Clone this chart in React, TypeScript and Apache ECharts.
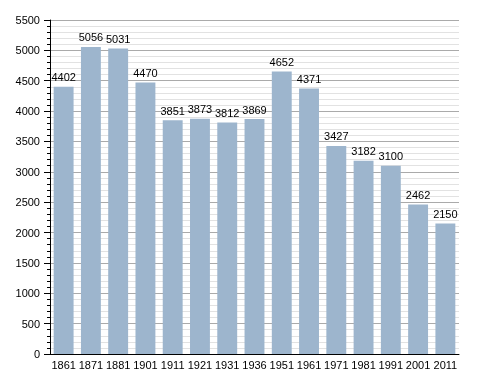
import React, { useEffect, useRef } from "react";
import * as echarts from "echarts";

const years = ["1861", "1871", "1881", "1901", "1911", "1921", "1931", "1936", "1951", "1961", "1971", "1981", "1991", "2001", "2011"];
const population = [4402, 5056, 5031, 4470, 3851, 3873, 3812, 3869, 4652, 4371, 3427, 3182, 3100, 2462, 2150];

const FONT = "Liberation Sans, Arial, sans-serif";

export default function App() {
  const ref = useRef<HTMLDivElement>(null);
  useEffect(() => {
    const chart = echarts.init(ref.current!, null, { renderer: "svg" });
    chart.setOption({
      animation: false,
      grid: { left: 50, right: 29, top: 20, bottom: 19 },
      xAxis: {
        type: "category",
        data: years,
        axisLine: { lineStyle: { color: "#000", width: 1 } },
        axisTick: { show: false },
        axisLabel: { color: "#000", fontSize: 11, fontFamily: FONT, margin: 5, interval: 0 },
      },
      yAxis: {
        type: "value",
        min: 0,
        max: 5500,
        interval: 500,
        axisLine: { show: true, lineStyle: { color: "#000", width: 1 } },
        axisTick: { show: true, inside: false, length: 6, lineStyle: { color: "#000" } },
        minorTick: { show: true, splitNumber: 5, length: 3, lineStyle: { color: "#000" } },
        splitLine: { show: true, lineStyle: { color: "#aaa", width: 1 } },
        minorSplitLine: { show: true, lineStyle: { color: "#e2e2e2", width: 1 } },
        axisLabel: { color: "#000", fontSize: 11, fontFamily: FONT, margin: 10, formatter: (v: number) => String(v) },
      },
      series: [
        {
          type: "bar",
          data: population,
          barCategoryGap: "27%",
          itemStyle: { color: "#9db5cd" },
          label: {
            show: true,
            position: "top",
            distance: 4,
            color: "#000",
            fontSize: 11,
            fontFamily: FONT,
          },
        },
      ],
    });
    return () => chart.dispose();
  }, []);
  return <div ref={ref} style={{ position: "fixed", left: 0, top: 0, width: 488, height: 373 }} />;
}
